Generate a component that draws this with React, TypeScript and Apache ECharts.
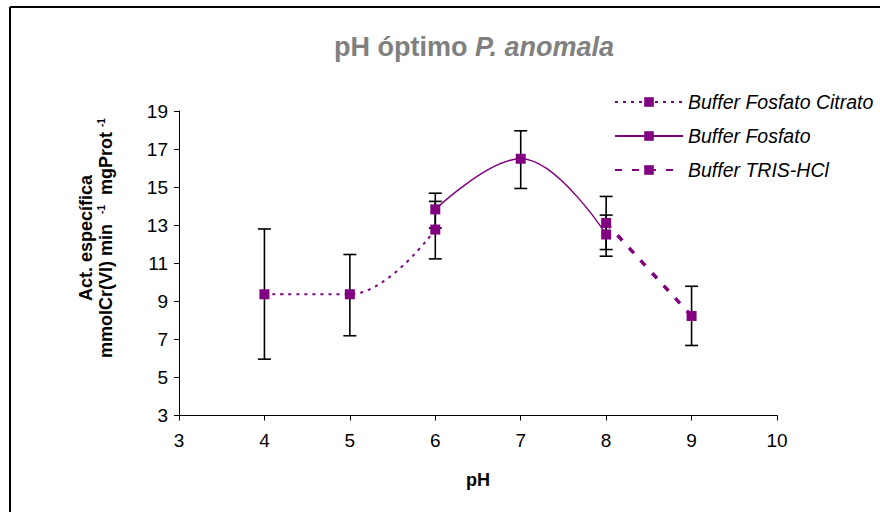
import React, { useEffect, useRef } from "react";
import * as echarts from "echarts";

const PH_CITRATO = [4, 5, 6];
const VAL_CITRATO = [9.37, 9.37, 12.77];
const ERR_CITRATO_LOW = [5.96, 7.19, 11.23];
const ERR_CITRATO_HIGH = [12.8, 11.46, 14.25];

const PH_FOSFATO = [6, 7, 8];
const VAL_FOSFATO = [13.83, 16.49, 12.51];
const ERR_FOSFATO_LOW = [12.85, 14.93, 11.37];
const ERR_FOSFATO_HIGH = [14.68, 17.96, 13.53];

const PH_TRIS = [8, 9];
const VAL_TRIS = [13.12, 8.23];
const ERR_TRIS_LOW = [11.72, 6.68];
const ERR_TRIS_HIGH = [14.51, 9.79];

const SERIES_NAMES = ["Buffer Fosfato Citrato", "Buffer Fosfato", "Buffer TRIS-HCl"];
const X_MIN = 3, X_MAX = 10, X_STEP = 1;
const Y_MIN = 3, Y_MAX = 19, Y_STEP = 2;

const PURPLE = "#800080";
const FONT = "'Liberation Sans', Arial, sans-serif";

function pairs(xs: number[], ys: number[]) {
  return xs.map((x, i) => [x, ys[i]]);
}
function errs(xs: number[], lo: number[], hi: number[]) {
  return xs.map((x, i) => [x, lo[i], hi[i]]);
}

export default function App() {
  const ref = useRef<HTMLDivElement>(null);
  useEffect(() => {
    document.body.style.margin = "0";
    const chart = echarts.init(ref.current!, null, { renderer: "svg" });
    const errRender = (params: any, api: any) => {
      const x = api.value(0);
      const lo = api.coord([x, api.value(1)]);
      const hi = api.coord([x, api.value(2)]);
      const hw = 6.5;
      const style = { stroke: "#000", lineWidth: 1.6 };
      return {
        type: "group",
        children: [
          { type: "line", shape: { x1: lo[0], y1: lo[1], x2: hi[0], y2: hi[1] }, style },
          { type: "line", shape: { x1: lo[0] - hw, y1: lo[1], x2: lo[0] + hw, y2: lo[1] }, style },
          { type: "line", shape: { x1: hi[0] - hw, y1: hi[1], x2: hi[0] + hw, y2: hi[1] }, style },
        ],
      };
    };
    const allErr = [
      ...errs(PH_CITRATO, ERR_CITRATO_LOW, ERR_CITRATO_HIGH),
      ...errs(PH_FOSFATO, ERR_FOSFATO_LOW, ERR_FOSFATO_HIGH),
      ...errs(PH_TRIS, ERR_TRIS_LOW, ERR_TRIS_HIGH),
    ];
    chart.setOption({
      animation: false,
      backgroundColor: "#fff",
      textStyle: { fontFamily: FONT },
      title: {
        text: "{a|pH óptimo }{b|P. anomala}",
        left: 469,
        textAlign: "center",
        top: 28,
        textStyle: {
          rich: {
            a: { fontFamily: FONT, fontSize: 27, fontWeight: "bold", color: "#808080" },
            b: { fontFamily: FONT, fontSize: 27, fontWeight: "bold", fontStyle: "italic", color: "#808080" },
          },
        },
      },
      legend: {
        orient: "vertical",
        left: 609,
        top: 87,
        itemWidth: 68,
        itemHeight: 12,
        itemGap: 14,
        textStyle: { fontFamily: FONT, fontSize: 19.5, fontStyle: "italic", color: "#000" },
        data: SERIES_NAMES,
      },
      graphic: [
        { type: "line", shape: { x1: 10, y1: 7, x2: 880, y2: 7 }, style: { stroke: "#000", lineWidth: 2 } },
        { type: "line", shape: { x1: 10, y1: 7, x2: 10, y2: 512 }, style: { stroke: "#000", lineWidth: 2 } },
        {
          type: "text",
          x: 96,
          y: 238,
          rotation: Math.PI / 2,
          style: {
            text: "{b|Act. específica}\n{b|mmolCr(VI) min  }{s|-1}{b|  mgProt }{s|-1}",
            align: "center",
            verticalAlign: "middle",
            rich: {
              b: { fontFamily: FONT, fontSize: 18, fontWeight: "bold", fill: "#000", lineHeight: 20 },
              s: { fontFamily: FONT, fontSize: 10, fontWeight: "bold", fill: "#000", lineHeight: 20, verticalAlign: "top" },
            },
          },
        },
      ],
      grid: { left: 179, right: 103, top: 111, bottom: 96.5 },
      xAxis: {
        type: "value",
        min: X_MIN,
        max: X_MAX,
        interval: X_STEP,
        name: "pH",
        nameLocation: "middle",
        nameGap: 55,
        nameTextStyle: { fontFamily: FONT, fontSize: 18, fontWeight: "bold", color: "#000" },
        axisLine: { lineStyle: { color: "#000", width: 1 } },
        axisTick: { length: 5, lineStyle: { color: "#000" } },
        axisLabel: { fontFamily: FONT, fontSize: 19, color: "#000", margin: 15 },
        splitLine: { show: false },
      },
      yAxis: {
        type: "value",
        min: Y_MIN,
        max: Y_MAX,
        interval: Y_STEP,
        axisLine: { show: true, lineStyle: { color: "#000", width: 1 } },
        axisTick: { show: true, length: 5, lineStyle: { color: "#000" } },
        axisLabel: { fontFamily: FONT, fontSize: 19, color: "#000", margin: 11 },
        splitLine: { show: false },
      },
      series: [
        {
          type: "custom",
          name: "err",
          renderItem: errRender,
          data: allErr,
          z: 1,
          silent: true,
        },
        {
          type: "line",
          name: SERIES_NAMES[0],
          data: pairs(PH_CITRATO, VAL_CITRATO),
          smooth: 0.4,
          symbol: "rect",
          symbolSize: 10,
          itemStyle: { color: PURPLE },
          lineStyle: { color: PURPLE, width: 2, type: [3, 5] },
          z: 3,
        },
        {
          type: "line",
          name: SERIES_NAMES[1],
          data: pairs(PH_FOSFATO, VAL_FOSFATO),
          smooth: 0.4,
          symbol: "rect",
          symbolSize: 10,
          itemStyle: { color: PURPLE },
          lineStyle: { color: PURPLE, width: 1.5, type: "solid" },
          z: 3,
        },
        {
          type: "line",
          name: SERIES_NAMES[2],
          data: pairs(PH_TRIS, VAL_TRIS),
          smooth: 0.4,
          symbol: "rect",
          symbolSize: 10,
          itemStyle: { color: PURPLE },
          lineStyle: { color: PURPLE, width: 3.5, type: [7, 10] },
          z: 3,
        },
      ],
    });
    return () => chart.dispose();
  }, []);
  return (
    <div
      ref={ref}
      style={{ position: "absolute", left: 0, top: 0, width: 880, height: 512 }}
    />
  );
}
